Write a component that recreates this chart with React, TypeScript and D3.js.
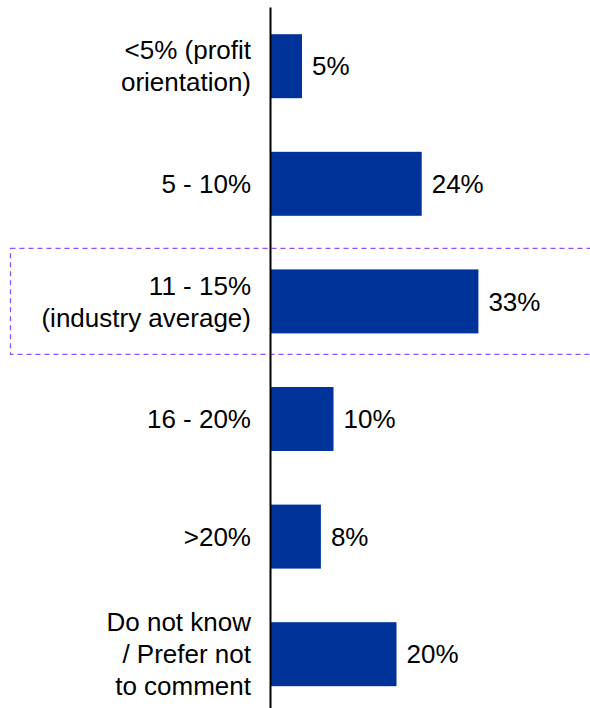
import React, { useEffect, useRef } from 'react';
import * as d3 from 'd3';

// categories (line breaks as in the reference)
const categories: string[][] = [
  ['<5% (profit', 'orientation)'],
  ['5 - 10%'],
  ['11 - 15%', '(industry average)'],
  ['16 - 20%'],
  ['>20%'],
  ['Do not know', '/ Prefer not', 'to comment'],
];
const shares: number[] = [5, 24, 33, 10, 8, 20];
const highlighted = '11 - 15%';

const WIDTH = 590;
const HEIGHT = 708;

export default function App() {
  const svgRef = useRef<SVGSVGElement>(null);

  useEffect(() => {
    if (!svgRef.current) return;
    const svg = d3.select(svgRef.current);
    svg.selectAll('*').remove();

    const keys = categories.map(c => c[0]);
    const data = keys.map((k, i) => ({ key: k, lines: categories[i], value: shares[i] }));

    const axisX = 270.5;
    const y = d3.scaleBand<string>()
      .domain(keys)
      .range([7.4, 713])
      .paddingInner(0.456)
      .paddingOuter(0.228);
    const x = d3.scaleLinear()
      .domain([0, 33])
      .range([axisX, axisX + 33 * 6.3]);

    const font = 'Liberation Sans, Arial, sans-serif';
    const fontSize = 26;
    const lineGap = 32;

    // highlight box around the industry-average row
    const hy = y(highlighted)!;
    svg.append('rect')
      .attr('x', 10.5)
      .attr('y', hy - 21)
      .attr('width', WIDTH + 20)
      .attr('height', y.bandwidth() + 42)
      .attr('fill', 'none')
      .attr('stroke', '#8c52ff')
      .attr('stroke-width', 1.3)
      .attr('stroke-dasharray', '5,4');

    // bars
    svg.selectAll('.bar')
      .data(data)
      .enter().append('rect')
      .attr('class', 'bar')
      .attr('x', x(0))
      .attr('y', d => y(d.key)!)
      .attr('width', d => x(d.value) - x(0))
      .attr('height', y.bandwidth())
      .attr('fill', '#003399');

    // value labels
    svg.selectAll('.val')
      .data(data)
      .enter().append('text')
      .attr('class', 'val')
      .attr('x', d => x(d.value) + 10)
      .attr('y', d => y(d.key)! + y.bandwidth() / 2)
      .attr('dy', '0.35em')
      .attr('font-family', font)
      .attr('font-size', fontSize)
      .attr('fill', '#000')
      .text(d => `${d.value}%`);

    // category labels
    const labels = svg.selectAll('.cat')
      .data(data)
      .enter().append('text')
      .attr('class', 'cat')
      .attr('text-anchor', 'end')
      .attr('font-family', font)
      .attr('font-size', fontSize)
      .attr('fill', '#000');
    labels.each(function (d) {
      const t = d3.select(this);
      const cy = y(d.key)! + y.bandwidth() / 2;
      const n = d.lines.length;
      d.lines.forEach((line, i) => {
        t.append('tspan')
          .attr('x', 251)
          .attr('y', cy + (i - (n - 1) / 2) * lineGap)
          .attr('dy', '0.35em')
          .text(line);
      });
    });

    // vertical axis line
    svg.append('line')
      .attr('x1', axisX)
      .attr('x2', axisX)
      .attr('y1', 7.5)
      .attr('y2', HEIGHT)
      .attr('stroke', '#000')
      .attr('stroke-width', 2);
  }, []);

  return (
    <svg
      ref={svgRef}
      width={WIDTH}
      height={HEIGHT}
      style={{ position: 'absolute', left: 0, top: 0, background: '#fff', display: 'block' }}
    />
  );
}
